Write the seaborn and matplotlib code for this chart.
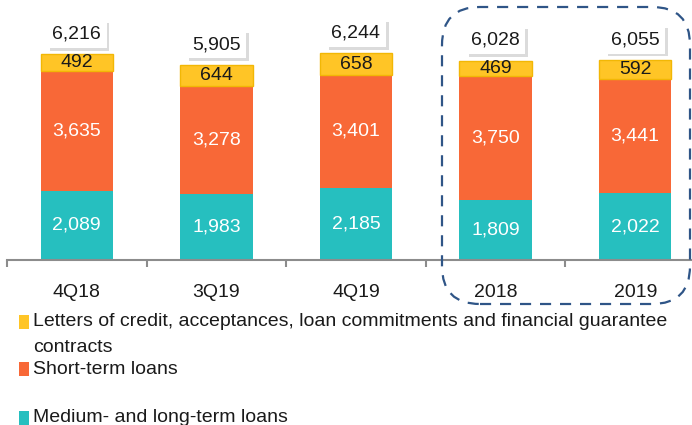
import pandas as pd
import seaborn as sns
import matplotlib.pyplot as plt
import matplotlib.patheffects as pe
from matplotlib.patches import FancyBboxPatch, Rectangle
from matplotlib.transforms import IdentityTransform

# data
periods = ["4Q18", "3Q19", "4Q19", "2018", "2019"]
medium_long = [2089, 1983, 2185, 1809, 2022]
short_term = [3635, 3278, 3401, 3750, 3441]
letters_credit = [492, 644, 658, 469, 592]
totals = [6216, 5905, 6244, 6028, 6055]

legend_labels = [
    ["Letters of credit, acceptances, loan commitments and financial guarantee", "contracts"],
    ["Short-term loans"],
    ["Medium- and long-term loans"],
]

# colors
TEAL = "#26BFBF"
ORANGE = "#F86837"
YELLOW = "#FFC526"
AXIS = "#8C8C8C"
DASH = "#2F5587"
TXT = "#1A1A1A"

sns.set_style("white")
plt.rcParams["font.family"] = ["Liberation Sans", "DejaVu Sans"]

df = pd.DataFrame({"period": periods, "ml": medium_long, "st": short_term, "lc": letters_credit})
df["st_bottom"] = df["ml"]
df["lc_bottom"] = df["ml"] + df["st"]

W, H = 692, 425
fig = plt.figure(figsize=(W / 100, H / 100), dpi=100)
ax = fig.add_axes([7 / W, (H - 260) / H, 698 / W, 258 / H])

bw = 0.52
sns.barplot(data=df, x="period", y="ml", color=TEAL, width=bw, errorbar=None,
            saturation=1, ax=ax, linewidth=0)
sns.barplot(data=df, x="period", y="st", bottom=df["st_bottom"], color=ORANGE, width=bw,
            errorbar=None, saturation=1, ax=ax, linewidth=0)
sns.barplot(data=df, x="period", y="lc", bottom=df["lc_bottom"], color=YELLOW, width=bw,
            errorbar=None, saturation=1, ax=ax, linewidth=1, edgecolor="#F2B705")

for cont, col in zip(ax.containers, ["white", "white", TXT]):
    ax.bar_label(cont, labels=[f"{v:,.0f}" for v in cont.datavalues],
                 label_type="center", color=col, fontsize=14)

# totals in white boxes with a soft shadow (right/bottom)
for i, t in enumerate(totals):
    a = ax.annotate(f"{t:,}", (i, t), xytext=(0, 14.5), textcoords="offset points",
                    ha="center", va="center", fontsize=14, color=TXT,
                    bbox=dict(boxstyle="square,pad=0.28", fc="white", ec="none"),
                    annotation_clip=False)
    a.get_bbox_patch().set_path_effects(
        [pe.SimplePatchShadow(offset=(2, -2), shadow_rgbFace="#D2D2D2", alpha=0.8),
         pe.Normal()])

ax.set_xlim(-0.5, 4.5)
ax.set_ylim(0, 7800)
ax.set_xlabel("")
ax.set_ylabel("")
ax.set_yticks([])
for s in ["top", "right", "left"]:
    ax.spines[s].set_visible(False)
ax.spines["bottom"].set_color(AXIS)
ax.spines["bottom"].set_linewidth(1.5)
ax.set_xticks([i + 0.5 for i in range(-1, 5)], minor=True)
ax.tick_params(axis="x", which="minor", length=5, width=1.5, color=AXIS, bottom=True)
ax.tick_params(axis="x", which="major", length=0, pad=17, labelsize=14, labelcolor=TXT)

# dashed rounded box around annual bars
box = FancyBboxPatch((442, H - 304), 248, 297,
                     boxstyle="round,pad=0,rounding_size=38",
                     transform=IdentityTransform(), fill=False, ec=DASH,
                     lw=1.6, ls=(0, (5, 4)), clip_on=False)
fig.add_artist(box)

# legend (manual, to match the irregular spacing)
leg_items = [(YELLOW, [322, 347]), (ORANGE, [369]), (TEAL, [418])]
for (col, ys), lines in zip(leg_items, legend_labels):
    fig.add_artist(Rectangle((19 / W, (H - ys[0] - 7) / H), 10 / W, 14 / H,
                             transform=fig.transFigure, fc=col, ec="none"))
    for yc, line in zip(ys, lines):
        fig.text(33 / W, (H - yc) / H, line, fontsize=14, color=TXT,
                 ha="left", va="center")

fig.savefig("out.png", dpi=100)
